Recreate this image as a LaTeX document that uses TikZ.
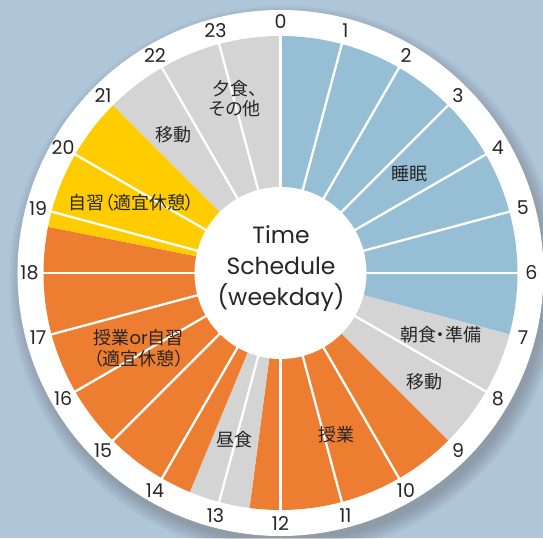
\documentclass[tikz,border=0pt]{standalone}
\usepackage{fontspec}
\setmainfont{Poppins}
\newfontfamily\jp[RawFeature=+palt]{Noto Sans CJK JP}
\definecolor{bgc}{HTML}{AFC5D8}
\definecolor{cblue}{HTML}{96BFD5}
\definecolor{cgrey}{HTML}{D4D4D4}
\definecolor{corange}{HTML}{ED7D31}
\definecolor{cyellow}{HTML}{FFCC00}
\definecolor{txt}{HTML}{262626}
\tikzset{
  hourlbl/.style={text=txt, inner sep=0pt, font=\fontsize{19}{19}\selectfont},
  jplbl/.style={text=txt, inner sep=0pt, align=center, font=\jp\fontsize{18}{20}\selectfont},
  centerlbl/.style={text=txt, inner sep=0pt, align=center, font=\fontsize{23.5}{31}\selectfont},
  sepline/.style={white, line width=2.3pt}
}
\begin{document}
\begin{tikzpicture}[x=1pt,y=1pt]
\useasboundingbox (-280.5,-265) rectangle (262.5,273);
\fill[bgc] (-280.5,-265) rectangle (262.5,273);
% soft shadow
\foreach \i in {1,...,16}
  \fill[black,opacity=0.01] (4,-8) circle ({260+\i});
% outer white ring
\fill[white] (0,0) circle (263);
% sectors
\foreach \a/\b/\c in {0/7/cblue, 7/9/cgrey, 9/12.5/corange, 12.5/13.5/cgrey, 13.5/18.75/corange, 18.75/21/cyellow, 21/24/cgrey}
  \fill[\c] (0,0) -- ({90-15*\a}:237) arc[start angle={90-15*\a}, end angle={90-15*\b}, radius=237] -- cycle;
% separating lines
\foreach \h in {0,1,2,3,4,5,6,8,10,11,12,13,14,15,16,17,18,19,20,22,23}
  \draw[sepline] ({90-15*\h}:80) -- ({90-15*\h}:237.5);
% centre disk
\fill[white] (0,0) circle (86);
% hour labels
\foreach \h in {0,...,23}
  \node[hourlbl] (h\h) at ({90-15*\h}:251) {\h};
% centre text
\node[centerlbl] (title) at (0.5,4) {Time\\Schedule\\(weekday)};
% activity labels
\node[jplbl] (sleep) at (129,99) {睡眠};
\node[jplbl] (breakfast) at (160,-62) {朝食・準備};
\node[jplbl] (move1) at (143.5,-108.7) {移動};
\node[jplbl] (class) at (56,-162) {授業};
\node[jplbl] (lunch) at (-45.5,-167) {昼食};
\node[jplbl, font=\jp\fontsize{18}{21.5}\selectfont] (classor) at (-141.8,-75.3) {授業{\rmfamily\fontsize{18}{18}\selectfont or}自習\\（適宜休憩）};
\node[jplbl] (study) at (-149,70) {自習（適宜休憩）};
\node[jplbl] (move2) at (-107,138) {移動};
\node[jplbl] (dinner) at (-45.5,174) {夕食、\\その他};
\end{tikzpicture}
\end{document}
